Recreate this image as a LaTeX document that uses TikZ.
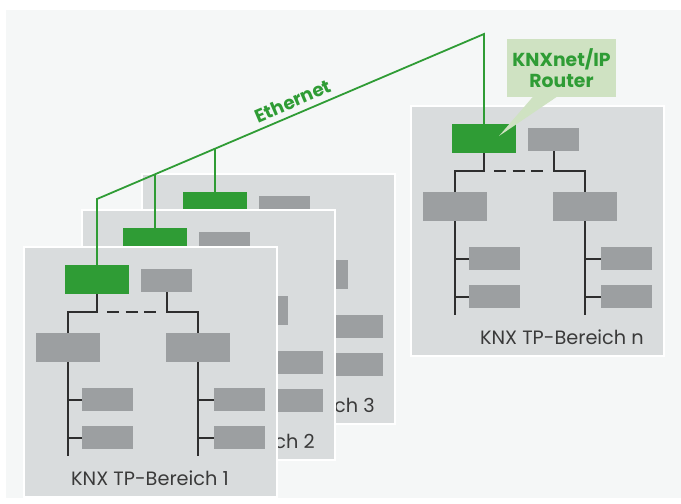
\documentclass[tikz,border=0pt]{standalone}
\usepackage{fontspec}
\setmainfont{Poppins}
\usetikzlibrary{calc}
\definecolor{bgc}{HTML}{F5F7F7}
\definecolor{panelc}{HTML}{D9DCDD}
\definecolor{boxc}{HTML}{9C9FA1}
\definecolor{knxg}{HTML}{2F9C35}
\definecolor{calloutc}{HTML}{CFE2C2}
\definecolor{linec}{HTML}{2E2E2E}
\definecolor{txtc}{HTML}{3A3A3A}
\tikzset{
 panel/.style={draw=white, line width=1.5pt, fill=panelc, minimum width=253pt, minimum height=250pt, inner sep=0pt, outer sep=0pt},
 routerbox/.style={fill=knxg, minimum width=64pt, minimum height=29pt, inner sep=0pt, outer sep=0pt},
 couplerbox/.style={fill=boxc, minimum width=64pt, minimum height=29pt, inner sep=0pt, outer sep=0pt},
 devbox/.style={fill=boxc, minimum width=51pt, minimum height=23pt, inner sep=0pt, outer sep=0pt},
 bus/.style={draw=linec, line width=2pt},
 dashedbus/.style={bus, dash pattern=on 12pt off 6.5pt},
 eth/.style={draw=knxg, line width=1.8pt},
 lbl/.style={text=txtc, font=\fontsize{19.3}{21}\selectfont, inner sep=0pt},
}
% #1 prefix, #2 x, #3 y, #4 label text, #5 label anchor, #6 label position
\newcommand\knxpanel[6]{%
\begin{scope}[shift={(#2,#3)}]
 \node[panel] (#1) at (126.5,125) {};
 \node[routerbox] (#1g) at (73,32.5) {};
 \node[devbox] (#1k) at (142.5,33.5) {};
 \node[couplerbox] (#1l) at (44,100.5) {};
 \node[couplerbox] (#1r) at (174,100.5) {};
 \node[devbox] (#1la) at (83.5,152.5) {};
 \node[devbox] (#1lb) at (83.5,190.5) {};
 \node[devbox] (#1ra) at (215.5,152.5) {};
 \node[devbox] (#1rb) at (215.5,190.5) {};
 \coordinate (#1bl) at (44,65);
 \coordinate (#1br) at (174,65);
 \coordinate (#1le) at (44,209);
 \coordinate (#1re) at (174,209);
 \draw[bus] (#1l.north) -- (#1bl) -- (#1g.south |- #1bl) -- (#1g.south);
 \draw[bus] (#1k.south) -- (#1k.south |- #1br) -- (#1br) -- (#1r.north);
 \draw[dashedbus] ($(#1g.south |- #1bl)+(10,0)$) -- ($(#1k.south |- #1bl)+(-10,0)$);
 \draw[bus] (#1l.south) -- (#1le);
 \draw[bus] (#1r.south) -- (#1re);
 \draw[bus] (#1la.west) -- (#1la.west -| #1l);
 \draw[bus] (#1lb.west) -- (#1lb.west -| #1l);
 \draw[bus] (#1ra.west) -- (#1ra.west -| #1r);
 \draw[bus] (#1rb.west) -- (#1rb.west -| #1r);
 \node[lbl, anchor=#5] (#1t) at (#6) {#4};
\end{scope}}
\begin{document}
\begin{tikzpicture}[x=1pt,y=-1pt]
\useasboundingbox (0,0) rectangle (681,504);
\fill[bgc] (6,10) rectangle (681,498);
\knxpanel{pc}{142}{174}{KNX TP-Bereich 3}{east}{233,231}
\knxpanel{pb}{82}{210}{KNX TP-Bereich 2}{east}{233,231}
\knxpanel{pa}{24}{247}{KNX TP-Bereich 1}{center}{126,231}
\knxpanel{pn}{411}{106}{KNX TP-Bereich n}{east}{233,231}
% callout
\node[fill=calloutc, minimum width=109pt, minimum height=58pt, inner sep=0pt, align=center, text=knxg, font=\fontsize{18.8}{21}\selectfont\bfseries] (call) at (561.5,68) {KNXnet/IP\\Router};
\coordinate (tip) at (499,136);
\fill[calloutc] ($(call.south)+(-28.5,-0.5)$) -- ($(call.south)+(-4.5,-0.5)$) -- (tip) -- cycle;
% ethernet
\coordinate (E) at (484,34);
\coordinate (ec) at (97,199);
\draw[eth, line join=miter] (pag.north) -- (ec) -- (E) -- (png.north);
\coordinate (pbup) at ($(pbg.north)+(0,-60)$);
\coordinate (pcup) at ($(pcg.north)+(0,-60)$);
\draw[eth] (pbg.north) -- (intersection of pbg.north--pbup and ec--E);
\draw[eth] (pcg.north) -- (intersection of pcg.north--pcup and ec--E);
\path (ec) -- node[pos=0.52, sloped, above=6pt, text=knxg, font=\fontsize{18.5}{20}\selectfont\bfseries, inner sep=0pt] (ethl) {Ethernet} (E);
\end{tikzpicture}
\end{document}
